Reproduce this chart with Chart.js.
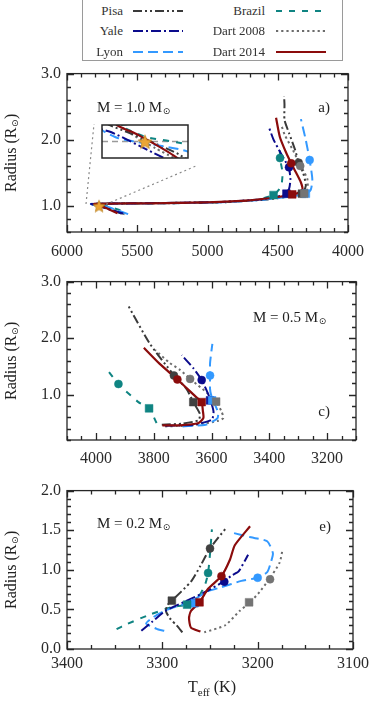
<!doctype html>
<html lang="en">
<head>
<meta charset="utf-8">
<style>
  * { margin: 0; padding: 0; }
  body { width: 374px; height: 701px; background: #fff; position: relative; overflow: hidden; font-family: "Liberation Serif", serif; }
  canvas { position: absolute; left: 0; }
  #legendBox { position: absolute; left: 82px; top: -2px; width: 259px; height: 61px; border: 1px solid #9a9a9a; }
  .lab { position: absolute; width: 80px; height: 16px; line-height: 16px; font-size: 13px; text-align: right; color: #333; }
  .smp { position: absolute; }
</style>
</head>
<body>
<div id="legendBox"></div>
<canvas id="panelA" width="374" height="202" style="top:58px"></canvas>
<canvas id="inset" width="102" height="49" style="left:94px;top:117px"></canvas>
<canvas id="panelC" width="374" height="202" style="top:266px"></canvas>
<canvas id="panelE" width="374" height="226" style="top:475px"></canvas>
<script src="https://cdn.jsdelivr.net/npm/chart.js"></script>
<script>
  // models, in legend order
  const models = ['Pisa', 'Yale', 'Lyon', 'Brazil', 'Dart 2008', 'Dart 2014'];
  const lineColors = ['#3a3a3a', '#0b0b8c', '#3399ff', '#0f8482', '#6c6c6c', '#8b0c0c'];
  const markColors = ['#404040', '#0b0b8c', '#3399ff', '#0f8482', '#747474', '#8b0c0c'];
  const dashes = [[9, 3, 2, 3, 2, 3], [10, 3, 2, 3], [10, 5], [6, 7], [2.2, 3], []];
  const drawOrder = [5, 1, 2, 0, 4, 3]; // first one ends up on top

  // the Sun
  const sun = [5772, 1.0];

  // M = 1.0 Msun, [Teff, R]
  const pisaA = [[5610, 0.875], [5732, 0.98], [5788, 1.012], [5815, 1.027], [5700, 1.033], [5300, 1.04], [4900, 1.055], [4600, 1.09], [4420, 1.14], [4330, 1.18], [4300, 1.3], [4320, 1.5], [4351, 1.65], [4376, 1.84], [4420, 2.1], [4452, 2.3], [4452, 2.53], [4455, 2.66]];
  const yaleA = [[5600, 0.88], [5761, 0.982], [5811, 1.014], [5840, 1.025], [5700, 1.03], [5300, 1.04], [4900, 1.055], [4600, 1.1], [4460, 1.16], [4420, 1.25], [4410, 1.4], [4420, 1.57], [4440, 1.65], [4480, 1.8], [4530, 2.0], [4565, 2.2]];
  const lyonA = [[5565, 0.87], [5650, 0.935], [5723, 0.985], [5803, 1.005], [5830, 1.025], [5700, 1.03], [5300, 1.035], [4900, 1.05], [4600, 1.09], [4400, 1.14], [4300, 1.18], [4265, 1.24], [4254, 1.4], [4273, 1.69], [4300, 1.99], [4335, 2.31]];
  const brazilA = [[5620, 0.93], [5723, 0.995], [5771, 1.007], [5800, 1.025], [5700, 1.03], [5300, 1.035], [4900, 1.05], [4650, 1.09], [4530, 1.16], [4496, 1.23], [4473, 1.32], [4466, 1.5], [4484, 1.72], [4484, 1.94]];
  const dart08A = [[5590, 0.87], [5700, 0.95], [5760, 0.99], [5800, 1.025], [5700, 1.03], [5300, 1.035], [4900, 1.05], [4600, 1.09], [4400, 1.14], [4323, 1.18], [4289, 1.25], [4289, 1.4], [4323, 1.55], [4360, 1.7], [4392, 1.84], [4450, 2.07], [4473, 2.21]];
  const dart14A = [[5640, 0.885], [5739, 0.979], [5780, 1.01], [5805, 1.026], [5700, 1.03], [5400, 1.035], [5000, 1.05], [4700, 1.08], [4500, 1.13], [4370, 1.18], [4325, 1.24], [4335, 1.35], [4370, 1.5], [4404, 1.64], [4440, 1.8], [4485, 2.04], [4512, 2.33]];
  const circA = [[4351, 1.65], [4420, 1.58], [4273, 1.69], [4484, 1.72], [4340, 1.6], [4404, 1.64]];
  const sqA = [[4328, 1.18], [4438, 1.18], [4300, 1.18], [4530, 1.16], [4312, 1.18], [4397, 1.17]];

  // M = 0.5 Msun
  const pisaC = [[3772, 0.47], [3700, 0.49], [3645, 0.55], [3640, 0.66], [3663, 0.87], [3686, 1.1], [3732, 1.36], [3813, 1.9], [3891, 2.6]];
  const yaleC = [[3760, 0.45], [3663, 0.47], [3599, 0.56], [3593, 0.7], [3605, 0.93], [3634, 1.26], [3663, 1.47], [3703, 1.7]];
  const lyonC = [[3700, 0.44], [3620, 0.47], [3580, 0.58], [3577, 0.68], [3590, 0.85], [3600, 0.97], [3605, 1.1], [3605, 1.34], [3605, 1.56], [3597, 1.9]];
  const brazilC = [[3790, 0.5], [3816, 0.76], [3853, 0.87], [3922, 1.19], [3965, 1.47]];
  const dart08C = [[3760, 0.44], [3663, 0.46], [3576, 0.54], [3559, 0.59], [3565, 0.7], [3584, 0.88], [3617, 1.04], [3645, 1.16], [3674, 1.28], [3709, 1.44], [3744, 1.56], [3795, 1.79]];
  const dart14C = [[3770, 0.46], [3709, 0.46], [3645, 0.5], [3628, 0.59], [3630, 0.72], [3634, 0.87], [3651, 0.95], [3718, 1.27], [3780, 1.55], [3834, 1.83]];
  const circC = [[3730, 1.34], [3634, 1.26], [3605, 1.34], [3922, 1.19], [3674, 1.28], [3718, 1.27]];
  const sqC = [[3663, 0.87], [3605, 0.9], [3598, 0.9], [3816, 0.76], [3584, 0.88], [3634, 0.87]];

  // M = 0.2 Msun
  const pisaE = [[3279, 0.21], [3285, 0.3], [3291, 0.37], [3296, 0.47], [3295, 0.55], [3290, 0.61], [3270, 0.85], [3260, 1.05], [3250, 1.27], [3233, 1.53]];
  const yaleE = [[3322, 0.23], [3310, 0.35], [3297, 0.48], [3276, 0.6], [3255, 0.72], [3236, 0.85], [3227, 0.93], [3220, 0.98], [3210, 1.19]];
  const lyonE = [[3298, 0.23], [3305, 0.25], [3317, 0.32], [3311, 0.39], [3296, 0.49], [3272, 0.59], [3252, 0.73], [3238, 0.78], [3217, 0.86], [3200, 0.9], [3190, 0.97], [3186, 1.1], [3184, 1.21], [3190, 1.36], [3207, 1.41], [3227, 1.47]];
  const brazilE = [[3348, 0.25], [3338, 0.31], [3314, 0.43], [3290, 0.53], [3274, 0.56], [3262, 0.66], [3255, 0.82], [3252, 0.96], [3250, 1.2], [3248, 1.51]];
  const dart08E = [[3256, 0.21], [3234, 0.3], [3219, 0.48], [3208, 0.59], [3198, 0.72], [3188, 0.88], [3177, 1.09], [3174, 1.25]];
  const dart14E = [[3260, 0.22], [3270, 0.27], [3272, 0.39], [3270, 0.48], [3261, 0.59], [3252, 0.76], [3238, 0.92], [3229, 1.13], [3224, 1.31], [3208, 1.55]];
  const circE = [[3250, 1.27], [3235, 0.85], [3200, 0.9], [3252, 0.96], [3187, 0.88], [3238, 0.92]];
  const sqE = [[3290, 0.61], [3267, 0.58], [3266, 0.58], [3274, 0.56], [3209, 0.59], [3261, 0.59]];

  // axis ticks
  const xLabA = [6000, 5500, 5000, 4500, 4000], yLabA = [1.0, 2.0, 3.0];
  const xLabC = [4000, 3800, 3600, 3400, 3200], yLabC = [1.0, 2.0, 3.0];
  const xLabE = [3400, 3300, 3200, 3100], yLabE = [0.0, 0.5, 1.0, 1.5, 2.0];

  // zoom box around the Sun
  const insetT = [5822, 5722], insetR = [0.975, 1.025];

  const FONT = 'Liberation Serif';
  Chart.defaults.font.family = FONT;

  // legend
  const legendRows = [11, 31, 52];
  models.forEach((m, i) => {
    const col = Math.floor(i / 3), row = i % 3;
    const lab = document.createElement('div');
    lab.className = 'lab';
    lab.textContent = m;
    lab.style.left = (col ? 185 : 43) + 'px';
    lab.style.top = (legendRows[row] - 8) + 'px';
    document.body.appendChild(lab);
    document.body.insertAdjacentHTML('beforeend',
      `<svg class="smp" width="50" height="6" style="left:${col ? 276 : 133}px;top:${legendRows[row] - 3}px">` +
      `<line x1="0" y1="3" x2="50" y2="3" stroke="${lineColors[i]}" stroke-width="2" stroke-dasharray="${dashes[i].join(' ')}"/></svg>`);
  });

  function starImg(size) {
    const c = document.createElement('canvas');
    c.width = c.height = size;
    const g = c.getContext('2d');
    const r = size / 2 - 0.6, r2 = r * 0.45;
    g.beginPath();
    for (let k = 0; k < 10; k++) {
      const a = -Math.PI / 2 + k * Math.PI / 5, rr = k % 2 ? r2 : r;
      g.lineTo(size / 2 + rr * Math.cos(a), size / 2 + 1 + rr * Math.sin(a));
    }
    g.closePath();
    g.fillStyle = '#eba535';
    g.fill();
    g.strokeStyle = '#b57c1c';
    g.lineWidth = 0.7;
    g.stroke();
    return c;
  }

  function steps(min, max, step) {
    const out = [];
    for (let k = 0; min + k * step <= max + 1e-9; k++) out.push(+(min + k * step).toFixed(4));
    return out;
  }

  const pts = arr => arr.map(p => ({ x: p[0], y: p[1] }));

  function trackSet(arr, i) {
    return {
      label: models[i], data: pts(arr), showLine: true, pointRadius: 0,
      borderColor: lineColors[i], borderWidth: i == 5 ? 2.2 : 2, borderDash: dashes[i],
      borderCapStyle: 'butt', tension: 0.2
    };
  }

  function markSet(arr, style, r) {
    return {
      data: pts(arr), showLine: false, pointStyle: style, pointRadius: r,
      backgroundColor: markColors, borderColor: markColors, borderWidth: 0.5
    };
  }

  // frame + inward ticks on all four sides
  function framePlugin(p) {
    return {
      id: 'frame',
      beforeDraw(chart) {
        if (!p.white) return;
        const a = chart.chartArea;
        chart.ctx.fillStyle = '#fff';
        chart.ctx.fillRect(a.left, a.top, a.width, a.height);
      },
      afterDraw(chart) {
        const { ctx, chartArea: a, scales: { x, y } } = chart;
        ctx.save();
        ctx.strokeStyle = '#262626';
        ctx.lineWidth = 1.3;
        if (p.ticks) {
          const isMaj = (v, s) => Math.abs(v / s - Math.round(v / s)) < 1e-6;
          ctx.beginPath();
          p.ticks.xm.forEach(v => {
            const px = Math.round(x.getPixelForValue(v)) + 0.5, l = isMaj(v, p.ticks.xs) ? 7 : 4;
            ctx.moveTo(px, a.bottom); ctx.lineTo(px, a.bottom - l);
            ctx.moveTo(px, a.top); ctx.lineTo(px, a.top + l);
          });
          p.ticks.ym.forEach(v => {
            const py = Math.round(y.getPixelForValue(v)) + 0.5, l = isMaj(v, p.ticks.ys) ? 7 : 4;
            ctx.moveTo(a.left, py); ctx.lineTo(a.left + l, py);
            ctx.moveTo(a.right, py); ctx.lineTo(a.right - l, py);
          });
          ctx.stroke();
        }
        ctx.lineWidth = p.white ? 1.5 : 1.3;
        ctx.strokeRect(a.left, a.top, a.width, a.height);
        if (p.connect) {
          // dotted lines from the zoom box in the plot to the inset
          const c = chart.canvas.offsetTop;
          ctx.setLineDash([2, 3]);
          ctx.strokeStyle = '#8a8a8a';
          ctx.lineWidth = 1.2;
          ctx.beginPath();
          ctx.moveTo(x.getPixelForValue(insetT[0]) - 6, y.getPixelForValue(insetR[1]));
          ctx.lineTo(94, 124 - c);
          ctx.moveTo(x.getPixelForValue(insetT[1]), y.getPixelForValue(insetR[0]) - 3);
          ctx.lineTo(196, 166 - c);
          ctx.stroke();
        }
        ctx.restore();
      }
    };
  }

  function sunSymbol(ctx, x, y) {
    ctx.save();
    ctx.font = '9px "DejaVu Sans"';
    ctx.textAlign = 'left';
    ctx.fillText('\u2299', x, y);
    ctx.restore();
  }

  function textPlugin(p) {
    return {
      id: 'txt',
      afterDraw(chart) {
        const { ctx, chartArea: a } = chart;
        ctx.save();
        ctx.fillStyle = '#222';
        ctx.textBaseline = 'middle';
        ctx.font = '15px "' + FONT + '"';
        // mass label
        ctx.textAlign = 'left';
        const s = 'M = ' + p.mass + ' M';
        const mx = a.left + p.massAt[0], my = a.top + p.massAt[1];
        ctx.fillText(s, mx, my);
        sunSymbol(ctx, mx + ctx.measureText(s).width + 0.5, my + 4);
        // panel letter
        ctx.textAlign = 'right';
        ctx.fillText(p.letter, a.right - p.letterAt[0], a.top + p.letterAt[1]);
        // y title
        ctx.font = '16px "' + FONT + '"';
        const t1 = 'Radius (R', t3 = ')';
        const w1 = ctx.measureText(t1).width, w3 = ctx.measureText(t3).width;
        ctx.font = '9px "DejaVu Sans"';
        const w2 = ctx.measureText('\u2299').width;
        ctx.translate(12, (a.top + a.bottom) / 2);
        ctx.rotate(-Math.PI / 2);
        const x0 = -(w1 + w2 + w3 + 1) / 2;
        ctx.textAlign = 'left';
        ctx.font = '16px "' + FONT + '"';
        ctx.fillText(t1, x0, 0);
        sunSymbol(ctx, x0 + w1 + 0.5, 4);
        ctx.font = '16px "' + FONT + '"';
        ctx.fillText(t3, x0 + w1 + w2 + 1, 0);
        ctx.restore();
        if (p.xTitle) {
          ctx.save();
          ctx.fillStyle = '#222';
          ctx.textBaseline = 'middle';
          ctx.textAlign = 'left';
          ctx.font = '16px "' + FONT + '"';
          const wT = ctx.measureText('T').width, wK = ctx.measureText(' (K)').width;
          ctx.font = '11px "' + FONT + '"';
          const wE = ctx.measureText('eff').width;
          const x1 = (a.left + a.right) / 2 + 2 - (wT + wE + wK) / 2;
          const y0 = a.bottom + 39;
          ctx.font = '16px "' + FONT + '"';
          ctx.fillText('T', x1, y0);
          ctx.font = '11px "' + FONT + '"';
          ctx.fillText('eff', x1 + wT, y0 + 5);
          ctx.font = '16px "' + FONT + '"';
          ctx.fillText(' (K)', x1 + wT + wE, y0);
          ctx.restore();
        }
      }
    };
  }

  function axis(min, max, labels, isX, h, pad, fmt) {
    return {
      type: 'linear', min, max, reverse: isX,
      afterBuildTicks: s => { s.ticks = labels.map(v => ({ value: v })); },
      afterFit: s => { if (isX) s.height = h; else s.width = 67; },
      grid: { display: false, drawTicks: false },
      border: { display: false },
      ticks: {
        font: { family: FONT, size: 16 }, color: '#2a2a2a', padding: pad,
        maxRotation: 0, autoSkip: false, callback: fmt
      }
    };
  }

  function makePanel(p) {
    const sets = [];
    if (p.sun) sets.push({ data: pts([sun]), showLine: false, pointStyle: starImg(p.sun), pointRadius: 7 });
    if (p.circ) sets.push(markSet(p.circ, 'circle', 4));
    if (p.sq) sets.push(markSet(p.sq, 'rect', 5.5));
    drawOrder.forEach(i => sets.push(trackSet(p.tracks[i], i)));
    if (p.refLine) sets.push({
      data: pts([[insetT[0], sun[1]], [insetT[1], sun[1]]]), showLine: true, pointRadius: 0,
      borderColor: '#9a9a9a', borderWidth: 1.3, borderDash: [6, 4]
    });
    const scales = p.axes ? {
      x: axis(p.xr[0], p.xr[1], p.xLab, true, p.xh, p.xpad, v => String(v)),
      y: axis(p.yr[0], p.yr[1], p.yLab, false, 0, 6, v => v.toFixed(1))
    } : {
      x: { type: 'linear', display: false, min: p.xr[0], max: p.xr[1], reverse: true },
      y: { type: 'linear', display: false, min: p.yr[0], max: p.yr[1] }
    };
    return new Chart(document.getElementById(p.id), {
      type: 'scatter',
      data: { datasets: sets },
      options: {
        responsive: false, animation: false, devicePixelRatio: 1,
        layout: { padding: p.pad },
        plugins: { legend: { display: false }, tooltip: { enabled: false } },
        scales
      },
      plugins: p.axes ? [framePlugin(p), textPlugin(p)] : [framePlugin(p)]
    });
  }

  makePanel({
    id: 'panelA', axes: true, tracks: [pisaA, yaleA, lyonA, brazilA, dart08A, dart14A],
    circ: circA, sq: sqA, sun: 14, xr: [4000, 6000], yr: [0.6, 3.0], xLab: xLabA, yLab: yLabA, xh: 28, xpad: 10,
    pad: { top: 10, right: 18, left: 0, bottom: 0 },
    ticks: { xm: steps(4000, 6000, 100), xs: 500, ym: steps(0.6, 3.0, 0.2), ys: 1 },
    mass: '1.0', massAt: [30, 34], letter: 'a)', letterAt: [18, 34], connect: true
  });

  makePanel({
    id: 'inset', axes: false, tracks: [pisaA, yaleA, lyonA, brazilA, dart08A, dart14A],
    sun: 16, refLine: true, xr: [insetT[1], insetT[0]], yr: insetR, white: true,
    pad: { top: 1, right: 1, left: 1, bottom: 1 }
  });

  makePanel({
    id: 'panelC', axes: true, tracks: [pisaC, yaleC, lyonC, brazilC, dart08C, dart14C],
    circ: circC, sq: sqC, xr: [3100, 4100], yr: [0.2, 3.0], xLab: xLabC, yLab: yLabC, xh: 28, xpad: 9,
    pad: { top: 10, right: 18, left: 0, bottom: 0 },
    ticks: { xm: steps(3100, 4100, 50), xs: 200, ym: steps(0.2, 3.0, 0.2), ys: 1 },
    mass: '0.5', massAt: [186, 36], letter: 'c)', letterAt: [26, 130]
  });

  makePanel({
    id: 'panelE', axes: true, tracks: [pisaE, yaleE, lyonE, brazilE, dart08E, dart14E],
    circ: circE, sq: sqE, xr: [3100, 3400], yr: [0.0, 2.0], xLab: xLabE, yLab: yLabE, xh: 52, xpad: 5,
    pad: { top: 10, right: 18, left: 0, bottom: 0 },
    ticks: { xm: steps(3100, 3400, 25), xs: 100, ym: steps(0, 2.0, 0.1), ys: 0.5 },
    mass: '0.2', massAt: [30, 33], letter: 'e)', letterAt: [22, 36], xTitle: true
  });
</script>
</body>
</html>
